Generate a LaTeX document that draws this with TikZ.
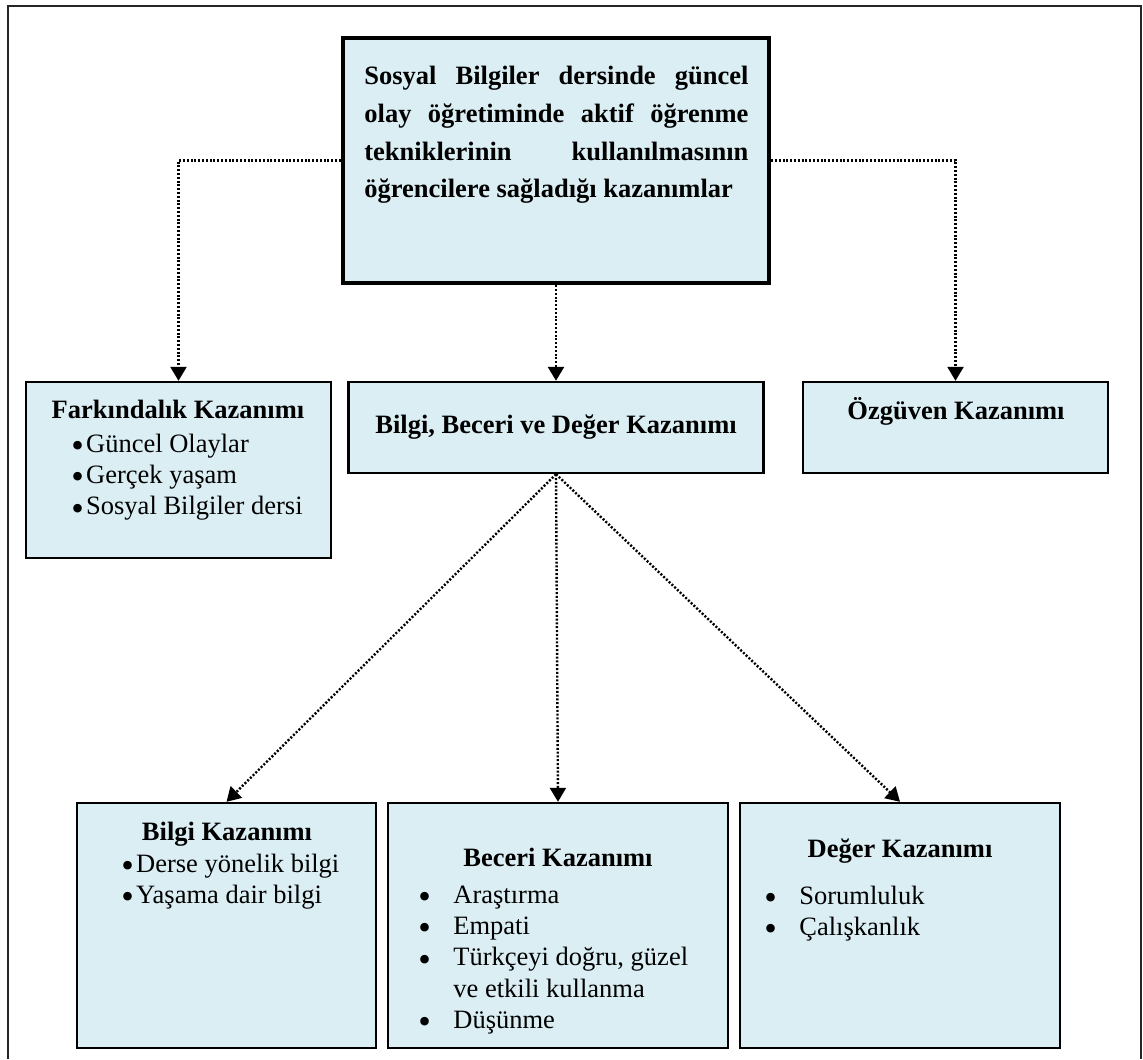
\documentclass[tikz,border=0pt]{standalone}
\usepackage{fontspec}
\setmainfont{Liberation Serif}
\usepackage{tikz}
\usetikzlibrary{arrows.meta}
\definecolor{kutu}{HTML}{DAEEF3}
\newcommand{\kdot}{\raisebox{-0.2em}{\scalebox{1.35}{\textbullet}}}
\newcommand{\kbul}{\makebox[7.4pt][l]{\kdot}}
\newcommand{\kbulw}{\makebox[17.5pt][l]{\kdot}}

\begin{document}
\begin{tikzpicture}[x=0.5pt,y=-0.5pt,
	font=\fontsize{13.25}{15.7}\selectfont,
	box/.style={draw,line width=1.2pt,fill=kutu,inner sep=0pt},
	head/.style={inner sep=0pt,font=\fontsize{13.25}{15.7}\selectfont\bfseries,anchor=base},
	list/.style={inner sep=0pt,anchor=base west},
	link/.style={line width=1.2pt,dash pattern=on 1pt off 0.9pt,-{Triangle[width=8pt,length=7pt]}}]
	\useasboundingbox (0,0) rectangle (1143,1059);
	\draw[line width=1pt,black!85] (8,1059) -- (8,6) -- (1141,6) -- (1141,1059);
	
	\node[box,line width=2.2pt,minimum width=213pt,minimum height=122.5pt](root) at (556,160.5){};
	\node[box,minimum width=152.5pt,minimum height=88pt](fark) at (178.5,470){};
	\node[box,minimum width=207.5pt,minimum height=45.5pt](bbd) at (556,427.5){};
	\node[box,minimum width=152.5pt,minimum height=45.5pt](ozg) at (955.5,427.5){};
	\node[box,minimum width=149.5pt,minimum height=122.5pt](bilgi) at (226.5,925.5){};
	\node[box,minimum width=170pt,minimum height=122.5pt](beceri) at (558,925.5){};
	\node[box,minimum width=160pt,minimum height=122.5pt](deger) at (900,925.5){};
	
	\node[list,font=\bfseries\fontsize{13.25}{18.8}\selectfont](rootT) at (364,85){\begin{tabular}[t]{@{}l@{}}
		\makebox[192pt][s]{Sosyal Bilgiler dersinde güncel}\\
		\makebox[192pt][s]{olay öğretiminde aktif öğrenme}\\
		\makebox[192pt][s]{tekniklerinin kullanılmasının}\\
		öğrencilere sağladığı kazanımlar
	\end{tabular}};
	
	\node[head](farkH) at (178,418){Farkındalık Kazanımı};
	\node[list](farkL) at (71,452){\begin{tabular}[t]{@{}l@{}}
		\kbul Güncel Olaylar\\ \kbul Gerçek yaşam\\ \kbul Sosyal Bilgiler dersi
	\end{tabular}};
	\node[head](bbdH) at (556,433){Bilgi, Beceri ve Değer Kazanımı};
	\node[head](ozgH) at (956,419){Özgüven Kazanımı};
	
	\node[head](bilgiH) at (227,840){Bilgi Kazanımı};
	\node[list](bilgiL) at (121,872){\begin{tabular}[t]{@{}l@{}}
		\kbul Derse yönelik bilgi\\ \kbul Yaşama dair bilgi
	\end{tabular}};
	\node[head](beceriH) at (558,866){Beceri Kazanımı};
	\node[list](beceriL) at (418,903){\begin{tabular}[t]{@{}l@{}}
		\kbulw Araştırma\\ \kbulw Empati\\ \kbulw Türkçeyi doğru, güzel\\
		\makebox[17.5pt]{}ve etkili kullanma\\ \kbulw Düşünme
	\end{tabular}};
	\node[head](degerH) at (900,857){Değer Kazanımı};
	\node[list](degerL) at (764,904){\begin{tabular}[t]{@{}l@{}}
		\kbulw Sorumluluk\\ \kbulw Çalışkanlık
	\end{tabular}};
	
	\draw[link] (root.west) -| (fark.north);
	\draw[link] (root.east) -| (ozg.north);
	\draw[link] (root.south) -- (bbd.north);
	\draw[link] (bbd.south) -- (bilgi.north);
	\draw[link] (bbd.south) -- (beceri.north);
	\draw[link] (bbd.south) -- (deger.north);
\end{tikzpicture}
\end{document}
